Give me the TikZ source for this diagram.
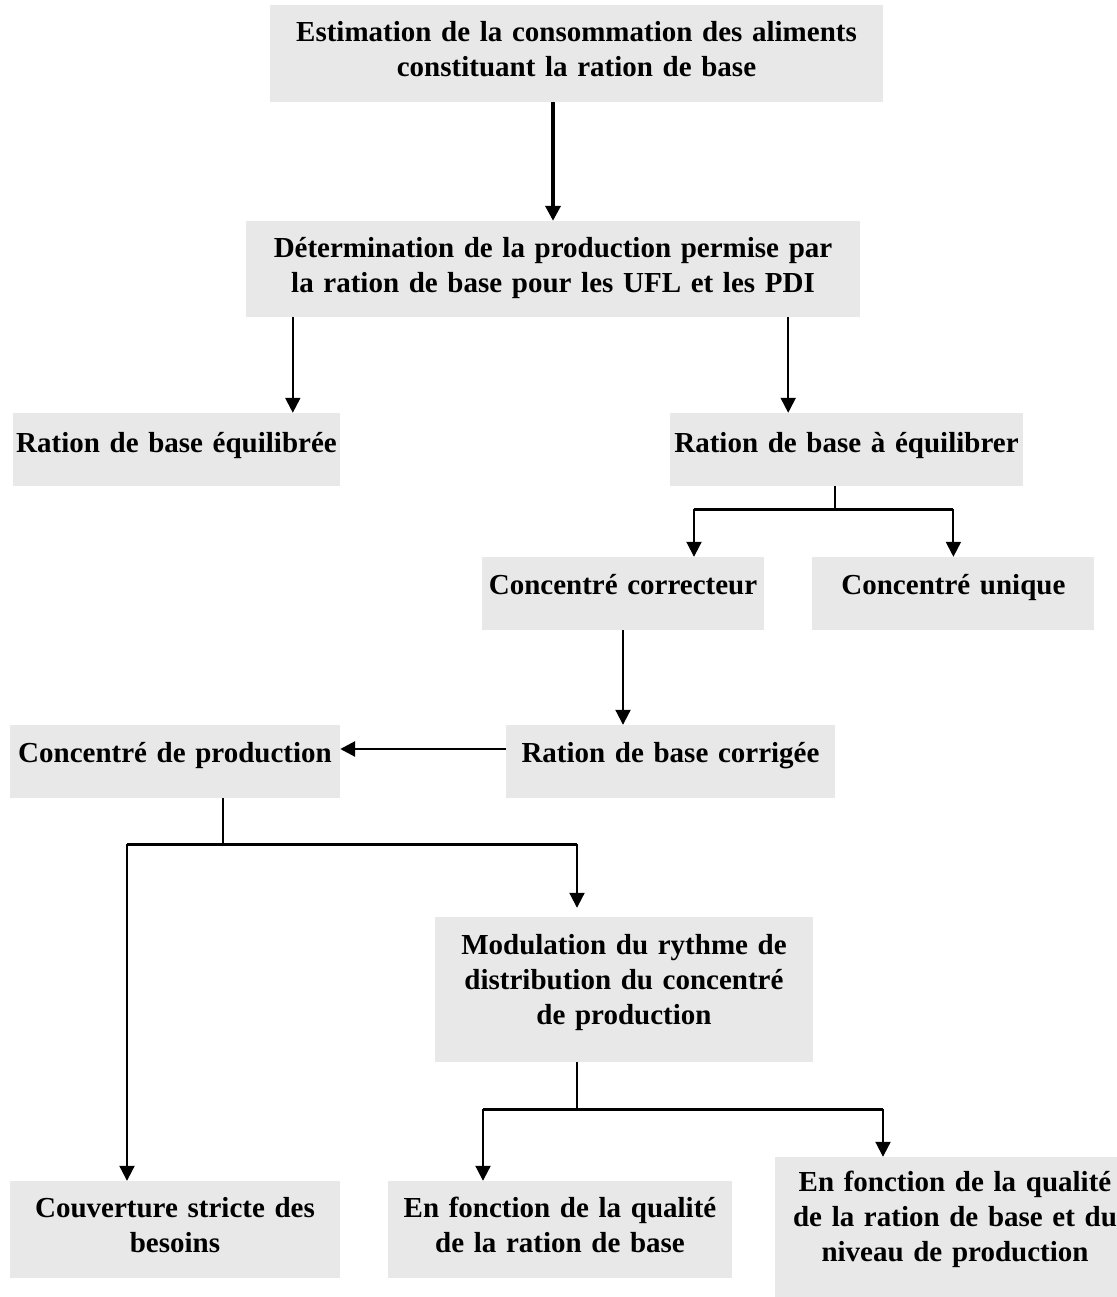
\documentclass[tikz,border=0pt]{standalone}
\usepackage{fontspec}
\setmainfont{Liberation Serif}
\usepackage{xcolor}
\usepackage{tikz}
\usetikzlibrary{calc,positioning,arrows.meta}
\definecolor{boxgray}{HTML}{E8E8E8}
\DeclareRobustCommand\boxfont{\fontsize{29}{35}\selectfont\bfseries\fontdimen2\font=5.6pt\relax}

\begin{document}
\begin{tikzpicture}[
    x=1pt, y=-1pt,
    >={Triangle[length=15pt,width=15pt]},
    gbox/.style={fill=boxgray, inner sep=0pt, align=center, text height=20pt, font=\boxfont},
    link/.style={line width=2pt},
    bar/.style={line width=2.8pt},
    heavy/.style={line width=3.6pt}
  ]
    \useasboundingbox (0,0) rectangle (1116,1297);

    \node[gbox, text width=613pt, minimum height=97pt, text depth=43pt] (estim) at (576.5,53.5)
      {Estimation de la consommation des aliments\\constituant la ration de base};
    \node[gbox, text width=614pt, minimum height=96pt, text depth=42pt] (determ) at (553,269)
      {Détermination de la production permise par\\la ration de base pour les UFL et les PDI};
    \node[gbox, text width=327pt, minimum height=73pt, text depth=15pt] (equil) at (176.5,449.5)
      {Ration de base équilibrée};
    \node[gbox, text width=353pt, minimum height=73pt, text depth=15pt] (aequil) at (846.5,449.5)
      {Ration de base à équilibrer};
    \node[gbox, text width=282pt, minimum height=73pt, text depth=19pt] (correct) at (623,593.5)
      {Concentré correcteur};
    \node[gbox, text width=282pt, minimum height=73pt, text depth=19pt, right=48pt of correct] (unique)
      {Concentré unique};
    \node[gbox, text width=329pt, minimum height=73pt, text depth=18pt] (corrig) at (670.5,761.5)
      {Ration de base corrigée};
    \node[gbox, text width=330pt, minimum height=73pt, text depth=18pt] (cprod) at (175,761.5)
      {Concentré de production};
    \node[gbox, text width=378pt, minimum height=145pt, text depth=91pt] (modul) at (624,989.5)
      {Modulation du rythme de\\distribution du concentré\\de production};
    \node[gbox, text width=330pt, minimum height=97pt, text depth=44pt] (couvert) at (175,1229.5)
      {Couverture stricte des\\besoins};
    \node[gbox, text width=344pt, minimum height=97pt, text depth=44pt] (qualite) at (560,1229.5)
      {En fonction de la qualité\\de la ration de base};
    \node[gbox, text width=360pt, minimum height=153pt, text depth=104pt] (qualniv) at (955,1233.5)
      {En fonction de la qualité\\de la ration de base et du\\niveau de production};

    % first steps
    \draw[->, heavy] (estim.south -| determ.north) -- (determ.north);
    \coordinate (dL) at ([xshift=47pt]determ.south west);
    \coordinate (dR) at ([xshift=-72pt]determ.south east);
    \draw[->, link] (dL) -- (dL |- equil.north);
    \draw[->, link] (dR) -- (dR |- aequil.north);

    % ration a equilibrer
    \coordinate (aS) at ([xshift=-11.5pt]aequil.south);
    \coordinate (aJ) at ($(aS)+(0,23)$);
    \coordinate (aL) at ($(correct.north |- aJ)+(71,0)$);
    \coordinate (aR) at (unique.north |- aJ);
    \draw[link] (aS) -- (aJ);
    \draw[bar] (aL) -- (aR);
    \draw[->, link] (aL) -- (aL |- correct.north);
    \draw[->, link] (aR) -- (unique.north);

    \draw[->, link] (correct.south) -- (correct.south |- corrig.north);
    \draw[->, bar] ([yshift=12.5pt]corrig.west) -- ([yshift=12.5pt]cprod.east);

    % concentre de production
    \coordinate (pS) at ([xshift=48pt]cprod.south);
    \coordinate (pJ) at ($(pS)+(0,46)$);
    \coordinate (pL) at ($(couvert.north |- pJ)+(-48,0)$);
    \coordinate (pR) at ($(modul.north |- pJ)+(-47,0)$);
    \draw[link] (pS) -- (pJ);
    \draw[bar] (pL) -- (pR);
    \draw[->, link] (pL) -- (pL |- couvert.north);
    \draw[->, link, shorten >=9pt] (pR) -- (pR |- modul.north);

    % modulation
    \coordinate (mS) at ([xshift=-47pt]modul.south);
    \coordinate (mJ) at ($(mS)+(0,47)$);
    \coordinate (mL) at ($(qualite.north |- mJ)+(-77,0)$);
    \coordinate (mR) at ($(qualniv.north |- mJ)+(-72,0)$);
    \draw[link] (mS) -- (mJ);
    \draw[bar] (mL) -- (mR);
    \draw[->, link] (mL) -- (mL |- qualite.north);
    \draw[->, link] (mR) -- (mR |- qualniv.north);
  \end{tikzpicture}
\end{document}
